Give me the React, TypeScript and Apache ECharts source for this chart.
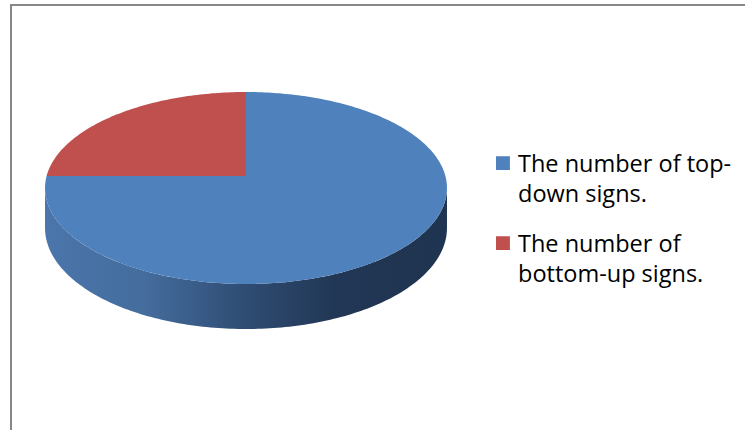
import React, { useEffect, useRef } from 'react';
import * as echarts from 'echarts';

const categories = ['The number of top-down signs.', 'The number of bottom-up signs.'];
const legendLabels = ['The number of top-\ndown signs.', 'The number of\nbottom-up signs.'];
const values = [75, 25];
const topColors = ['#4f81bd', '#c0504d'];
const sideStops = [
  ['#4b76ab', '#446c9d', '#2f4c73', '#213755', '#1f3450'],
  ['#a8423f', '#9a3c39', '#7e302e', '#6a2826', '#652624'],
];

export default function App() {
  const ref = useRef<HTMLDivElement>(null);
  useEffect(() => {
    const chart = echarts.init(ref.current as HTMLDivElement, null, { renderer: 'svg' });
    const total = values.reduce((a, b) => a + b, 0);
    const cx = 246, cy = 176, R = 199.4, B = 94.5, K = 0.125, H = 39.4;
    const TAU = Math.PI * 2;
    const proj = (t: number, d: number) => {
      const w = 1 + K * Math.sin(t);
      return [cx + (R * Math.cos(t)) / w, cy - (B * Math.sin(t)) / w + (d * H) / w];
    };
    const arc = (a0: number, a1: number, d: number) => {
      const n = Math.max(2, Math.ceil(Math.abs(a1 - a0) / (Math.PI / 180)));
      const pts: number[][] = [];
      for (let i = 0; i <= n; i++) pts.push(proj(a0 + ((a1 - a0) * i) / n, d));
      return pts;
    };
    const vis0 = Math.PI + Math.asin(K);
    const vis1 = TAU - Math.asin(K);

    const makeRender = (idx: number) => (params: any, api: any) => {
      let cum = 0;
      for (let i = 0; i < idx; i++) cum += values[i];
      const v = api.value(0);
      const hi = Math.PI / 2 - (cum / total) * TAU;
      const lo = hi - (v / total) * TAU;
      const children: any[] = [];
      const st = sideStops[idx];
      const grad = {
        type: 'linear', x: cx - R - 2, y: 0, x2: cx + R + 2, y2: 0, global: true,
        colorStops: [
          { offset: 0, color: st[0] },
          { offset: 0.25, color: st[1] },
          { offset: 0.5, color: st[2] },
          { offset: 0.72, color: st[3] },
          { offset: 1, color: st[4] },
        ],
      };
      for (const n of [-2, -1, 0, 1]) {
        const a = Math.max(lo, vis0 + TAU * n);
        const b = Math.min(hi, vis1 + TAU * n);
        if (b > a) {
          const pts = arc(a, b, 0).concat(arc(b, a, 1));
          children.push({ type: 'polygon', z2: 1, shape: { points: pts }, style: { fill: grad } });
        }
      }
      const face = [[cx, cy]].concat(arc(lo, hi, 0));
      children.push({ type: 'polygon', z2: 10, shape: { points: face }, style: { fill: topColors[idx] } });
      return { type: 'group', children };
    };

    chart.setOption({
      animation: false,
      backgroundColor: '#ffffff',
      graphic: [
        {
          type: 'rect',
          shape: { x: 11, y: 5, width: 900, height: 600 },
          style: { fill: 'none', stroke: '#878787', lineWidth: 2 },
          silent: true,
        },
      ],
      legend: {
        orient: 'vertical',
        left: 496,
        top: 148,
        padding: 0,
        itemWidth: 17,
        itemHeight: 44,
        itemGap: 20,
        selectedMode: false,
        icon: 'path://M0,0h14v14h-14zM17,44h0.1v-0.1h-0.1z',
        data: categories,
        formatter: (name: string) => legendLabels[categories.indexOf(name)],
        textStyle: { fontFamily: 'Open Sans', fontSize: 23.5, color: '#000000', lineHeight: 30 },
      },
      series: categories.map((name, i) => ({
        type: 'custom',
        name,
        coordinateSystem: 'none',
        data: [values[i]],
        itemStyle: { color: topColors[i] },
        renderItem: makeRender(i),
        silent: true,
      })),
    });
    return () => chart.dispose();
  }, []);
  return <div ref={ref} style={{ position: 'fixed', left: 0, top: 0, width: 745, height: 430 }} />;
}
